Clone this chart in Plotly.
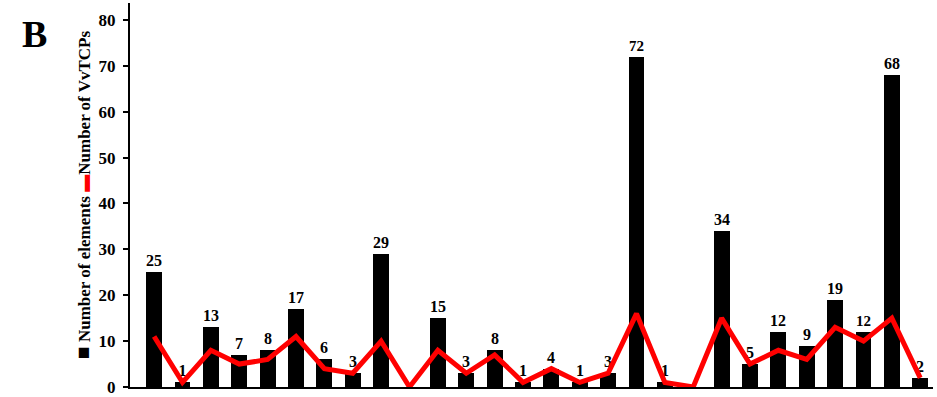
import plotly.graph_objects as go

# Promoter sites along the x axis (no tick labels are drawn)
sites = list(range(28))

# Bars: number of elements per site
elements = [25, 1, 13, 7, 8, 17, 6, 3, 29, 0, 15, 3, 8, 1, 4, 1, 3, 72, 1, 0,
            34, 5, 12, 9, 19, 12, 68, 2]

# Line: number of VvTCPs per site
vvtcps = [11, 1, 8, 5, 6, 11, 4, 3, 10, 0, 8, 3, 7, 1, 4, 1, 3, 16, 1, 0,
          15, 5, 8, 6, 13, 10, 15, 2]

y_ticks = [0, 10, 20, 30, 40, 50, 60, 70, 80]

serif = "Liberation Serif, Times New Roman, serif"

bar_text = [str(v) if v > 0 else "" for v in elements]

fig = go.Figure()
fig.add_trace(go.Bar(
    x=sites, y=elements, width=0.56,
    marker=dict(color="black", line=dict(width=0)),
    text=bar_text, textposition="outside", cliponaxis=False,
    textfont=dict(family=serif, size=16, color="black", weight="bold"),
    name="Number of elements",
))
fig.add_trace(go.Scatter(
    x=sites, y=vvtcps, mode="lines",
    line=dict(color="#ff0000", width=5),
    name="Number of VvTCPs",
))

fig.update_layout(
    width=937, height=397,
    margin=dict(l=130, r=4, t=3, b=10),
    plot_bgcolor="white", paper_bgcolor="white",
    showlegend=False, bargap=0,
    font=dict(family=serif, color="black"),
    xaxis=dict(range=[-0.85, 27.45], showticklabels=False, ticks="",
               automargin=False,
               showgrid=False, zeroline=False, showline=True,
               linecolor="black", linewidth=2),
    yaxis=dict(range=[0, 83.7], tickvals=y_ticks, ticks="outside",
               ticklen=5, tickwidth=2, tickcolor="black",
               ticklabelstandoff=4, ticklabeloverflow="allow",
               automargin=False,
               showgrid=False, zeroline=False, showline=True,
               linecolor="black", linewidth=2,
               tickfont=dict(family=serif, size=17, color="black", weight="bold")),
    annotations=[
        dict(text="<span style='font-size:21px'>■</span> Number of elements "
                  "<span style='color:#ff0000'>▬</span>Number of VvTCPs",
             xref="paper", yref="paper", x=(83 - 130) / 803, y=0.5,
             xanchor="center", yanchor="middle", textangle=-90, showarrow=False,
             font=dict(family=serif, size=17, color="black", weight="bold")),
        dict(text="B", xref="paper", yref="paper",
             x=(34 - 130) / 803, y=(387 - 34) / 384,
             xanchor="center", yanchor="middle", showarrow=False,
             font=dict(family=serif, size=38, color="black", weight="bold")),
    ],
)

fig.write_html("out.html")
